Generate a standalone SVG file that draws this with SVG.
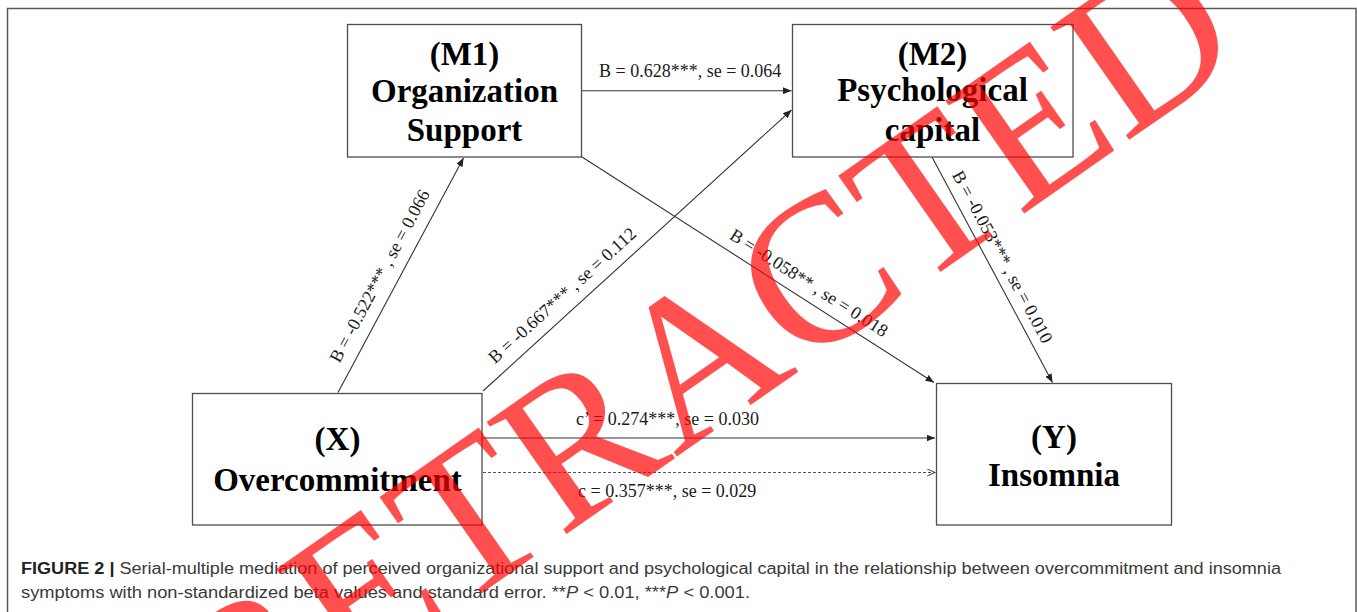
<svg xmlns="http://www.w3.org/2000/svg" width="1357" height="612" viewBox="0 0 1357 612">
  <style>
    .box { fill: #ffffff; stroke: #4d4d4d; stroke-width: 1.3; }
    .ntext { font-family: "Liberation Serif", "Times New Roman", serif; font-weight: bold; font-size: 33px; fill: #000; text-anchor: middle; }
    .lbl { font-family: "Liberation Serif", "Times New Roman", serif; font-size: 18px; fill: #1a1a1a; }
    .mid { text-anchor: middle; }
    .edge { fill: none; stroke: #333; stroke-width: 1.1; }
    .dash { fill: none; stroke: #555; stroke-width: 1.1; stroke-dasharray: 3 2; }
    .cap { font-family: "Liberation Sans", Arial, sans-serif; font-size: 16px; fill: #3a3a3a; }
    .wm { font-family: "Liberation Serif", "Times New Roman", serif; font-size: 210px; fill: #ff0000; fill-opacity: 0.69; text-anchor: middle; }
  </style>
  <defs>
    <marker id="arr" markerUnits="userSpaceOnUse" markerWidth="9" markerHeight="7" refX="8.5" refY="3.5" orient="auto">
      <path d="M0,0 L8.5,3.5 L0,7 z" fill="#222"/>
    </marker>
    <marker id="open" markerUnits="userSpaceOnUse" markerWidth="10" markerHeight="9" refX="8.5" refY="4" orient="auto">
      <path d="M0.5,0.5 L8.5,4 L0.5,7.5" fill="none" stroke="#555" stroke-width="1.1"/>
    </marker>
  </defs>

  <rect x="0" y="0" width="1357" height="612" fill="#ffffff"/>
  <rect id="frame" x="7.5" y="8.5" width="1348.5" height="640" fill="none" stroke="#5a5a5a" stroke-width="1.5"/>

  <g id="connectors">
    <line class="edge" x1="582" y1="90.7" x2="791.5" y2="90.7" marker-end="url(#arr)"/>
    <line class="edge" x1="338" y1="392.5" x2="463.5" y2="158" marker-end="url(#arr)"/>
    <line class="edge" x1="483" y1="391" x2="791.5" y2="110" marker-end="url(#arr)"/>
    <line class="edge" x1="582" y1="157" x2="934" y2="382.5" marker-end="url(#arr)"/>
    <line class="edge" x1="932" y1="157" x2="1052.5" y2="382.5" marker-end="url(#arr)"/>
    <line class="edge" x1="482" y1="438" x2="935" y2="438" marker-end="url(#arr)"/>
    <line class="dash" x1="483" y1="472.5" x2="935" y2="472.5" marker-end="url(#open)"/>
  </g>

  <g id="edge-labels">
    <text class="lbl" x="599" y="77">B = 0.628***, se = 0.064</text>
    <text class="lbl mid" transform="translate(395.5,284.4) rotate(-61.9)" x="0" y="-12">B = -0.522*** , se = 0.066</text>
    <text class="lbl mid" transform="translate(573.6,307.9) rotate(-42.2)" x="0" y="-11">B = -0.667*** , se = 0.112</text>
    <text class="lbl mid" transform="translate(799.8,297.1) rotate(32.7)" x="0" y="-11">B = -0.058** , se = 0.018</text>
    <text class="lbl mid" transform="translate(989.3,264) rotate(61.8)" x="0" y="-9">B = -0.053*** , se = 0.010</text>
    <text class="lbl" x="576" y="425">c’ = 0.274***, se = 0.030</text>
    <text class="lbl" x="578" y="497">c = 0.357***, se = 0.029</text>
  </g>

  <g id="node-m1">
    <rect class="box" x="347.5" y="24.5" width="234" height="132.5"/>
    <text class="ntext" x="464.5" y="65">(M1)</text>
    <text class="ntext" x="464.5" y="102">Organization</text>
    <text class="ntext" x="464.5" y="141">Support</text>
  </g>

  <g id="node-m2">
    <rect class="box" x="792.5" y="24.5" width="280.5" height="132.5"/>
    <text class="ntext" x="932.5" y="65">(M2)</text>
    <text class="ntext" x="932.5" y="101">Psychological</text>
    <text class="ntext" x="932.5" y="141">capital</text>
  </g>

  <g id="node-x">
    <rect class="box" x="192.5" y="393.5" width="289.5" height="131.5"/>
    <text class="ntext" x="337.5" y="450">(X)</text>
    <text class="ntext" x="337.5" y="491">Overcommitment</text>
  </g>

  <g id="node-y">
    <rect class="box" x="936.5" y="383.5" width="235" height="141.5"/>
    <text class="ntext" x="1054" y="448">(Y)</text>
    <text class="ntext" x="1054" y="486">Insomnia</text>
  </g>

  <g id="caption">
    <text class="cap" x="21" y="574" textLength="1260" lengthAdjust="spacingAndGlyphs"><tspan font-weight="bold" fill="#222">FIGURE 2 |</tspan> Serial-multiple mediation of perceived organizational support and psychological capital in the relationship between overcommitment and insomnia</text>
    <text class="cap" x="21" y="598" textLength="729" lengthAdjust="spacingAndGlyphs">symptoms with non-standardized beta values and standard error. **<tspan font-style="italic">P</tspan> &lt; 0.01, ***<tspan font-style="italic">P</tspan> &lt; 0.001.</text>
  </g>

  <g id="watermark">
    <text class="wm" transform="translate(742,411) rotate(-35)" x="0" y="0">RETRACTED</text>
  </g>
</svg>
